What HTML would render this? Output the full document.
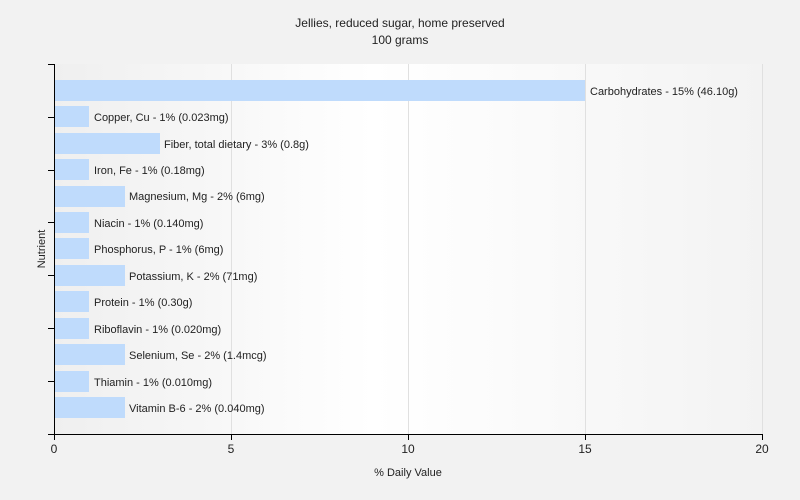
<!DOCTYPE html>
<html><head><style>
body{margin:0;background:#f2f2f2;}
svg{display:block;font-family:"Liberation Sans",sans-serif;}
</style></head><body>
<svg width="800" height="500" xmlns="http://www.w3.org/2000/svg">
<defs><linearGradient id="g" x1="0" x2="1" y1="0" y2="0">
<stop offset="0" stop-color="#efefef"/><stop offset="0.45" stop-color="#ffffff"/><stop offset="1" stop-color="#f3f3f3"/></linearGradient></defs>
<rect width="800" height="500" fill="#f2f2f2"/>
<rect x="54" y="64" width="708" height="370" fill="url(#g)"/>
<g stroke="#e0e0e0" stroke-width="1">
<line x1="231.5" y1="64" x2="231.5" y2="434"/><line x1="408.5" y1="64" x2="408.5" y2="434"/><line x1="585.5" y1="64" x2="585.5" y2="434"/><line x1="762.5" y1="64" x2="762.5" y2="434"/>
</g>
<text x="400" y="27" font-size="12" text-anchor="middle" fill="#222">Jellies, reduced sugar, home preserved</text>
<text x="400" y="44" font-size="12" text-anchor="middle" fill="#222">100 grams</text>
<g fill="#bfdbfc">
<rect x="55" y="80" width="530" height="21"/>
<rect x="55" y="106" width="34" height="21"/>
<rect x="55" y="133" width="105" height="21"/>
<rect x="55" y="159" width="34" height="21"/>
<rect x="55" y="186" width="70" height="21"/>
<rect x="55" y="212" width="34" height="21"/>
<rect x="55" y="238" width="34" height="21"/>
<rect x="55" y="265" width="70" height="21"/>
<rect x="55" y="291" width="34" height="21"/>
<rect x="55" y="318" width="34" height="21"/>
<rect x="55" y="344" width="70" height="21"/>
<rect x="55" y="371" width="34" height="21"/>
<rect x="55" y="397" width="70" height="21"/>
</g>
<g font-size="11" fill="#222">
<text x="590" y="95">Carbohydrates - 15% (46.10g)</text>
<text x="94" y="121">Copper, Cu - 1% (0.023mg)</text>
<text x="164" y="148">Fiber, total dietary - 3% (0.8g)</text>
<text x="94" y="174">Iron, Fe - 1% (0.18mg)</text>
<text x="129" y="200">Magnesium, Mg - 2% (6mg)</text>
<text x="94" y="227">Niacin - 1% (0.140mg)</text>
<text x="94" y="253">Phosphorus, P - 1% (6mg)</text>
<text x="129" y="280">Potassium, K - 2% (71mg)</text>
<text x="94" y="306">Protein - 1% (0.30g)</text>
<text x="94" y="333">Riboflavin - 1% (0.020mg)</text>
<text x="129" y="359">Selenium, Se - 2% (1.4mcg)</text>
<text x="94" y="386">Thiamin - 1% (0.010mg)</text>
<text x="129" y="412">Vitamin B-6 - 2% (0.040mg)</text>
</g>
<g stroke="#000" stroke-width="1">
<line x1="54.5" y1="64" x2="54.5" y2="434"/>
<line x1="54" y1="434.5" x2="762" y2="434.5"/>
<line x1="48" y1="64.5" x2="54" y2="64.5"/><line x1="48" y1="117.5" x2="54" y2="117.5"/><line x1="48" y1="170.5" x2="54" y2="170.5"/><line x1="48" y1="222.5" x2="54" y2="222.5"/><line x1="48" y1="275.5" x2="54" y2="275.5"/><line x1="48" y1="328.5" x2="54" y2="328.5"/><line x1="48" y1="381.5" x2="54" y2="381.5"/><line x1="48" y1="434.5" x2="54" y2="434.5"/>
<line x1="54.5" y1="434" x2="54.5" y2="440"/><line x1="231.5" y1="434" x2="231.5" y2="440"/><line x1="408.5" y1="434" x2="408.5" y2="440"/><line x1="585.5" y1="434" x2="585.5" y2="440"/><line x1="762.5" y1="434" x2="762.5" y2="440"/>
</g>
<g font-size="12" fill="#222" text-anchor="middle">
<text x="54" y="453">0</text><text x="231" y="453">5</text><text x="408" y="453">10</text><text x="585" y="453">15</text><text x="762" y="453">20</text>
</g>
<text x="408" y="476" font-size="11" text-anchor="middle" fill="#222">% Daily Value</text>
<text transform="translate(45,249) rotate(-90)" font-size="11" text-anchor="middle" fill="#222">Nutrient</text>
</svg>
</body></html>
